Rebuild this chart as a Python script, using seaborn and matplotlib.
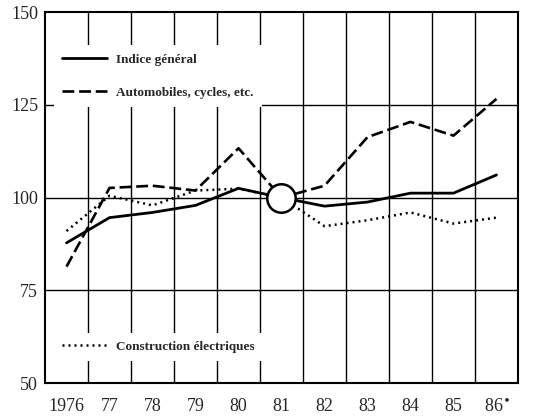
import numpy as np
import pandas as pd
import matplotlib
matplotlib.use("Agg")
import matplotlib.pyplot as plt
import seaborn as sns
from matplotlib.lines import Line2D

years = ["1976", "77", "78", "79", "80", "81", "82", "83", "84", "85", "86"]
indice_general = [87.8, 94.6, 96.0, 97.9, 102.5, 100.0, 97.7, 98.8, 101.2, 101.2, 106.1]
automobiles = [81.4, 102.6, 103.2, 101.9, 113.3, 100.0, 103.2, 116.3, 120.4, 116.7, 126.6]
construction = [91.0, 100.5, 97.9, 101.9, 102.4, 100.0, 92.3, 93.9, 96.0, 93.0, 94.6]
yticks = [50, 75, 100, 125, 150]

sns.set_theme(style="white")
plt.rcParams['font.family'] = ['Liberation Serif', 'DejaVu Serif']

fig = plt.figure(figsize=(5.49, 4.16), dpi=100)
ax = fig.add_axes([0.082, 0.079, 0.8615, 0.892])

x = np.arange(len(years))
df = pd.DataFrame({"x": x, "gen": indice_general, "auto": automobiles, "cons": construction})

# grid first, so legend boxes can hide it
for xv in np.arange(0.5, len(years) - 0.5, 1):
    ax.axvline(xv, color="black", lw=1.0, zorder=1)
for yv in [75, 100, 125]:
    ax.axhline(yv, color="black", lw=1.0, zorder=1)

dash = [4.5, 1.8]
dot = [0.8, 1.6]
sns.lineplot(data=df, x="x", y="gen", ax=ax, color="black", lw=2.0, zorder=3)
sns.lineplot(data=df, x="x", y="auto", ax=ax, color="black", lw=1.9, zorder=3)
ax.lines[-1].set_dashes(dash)
sns.lineplot(data=df, x="x", y="cons", ax=ax, color="black", lw=1.8, zorder=3)
ax.lines[-1].set_dashes(dot)

# base year marker
ax.scatter([5], [100], s=420, facecolor="white", edgecolor="black", linewidth=1.8, zorder=4)

ax.set_xlim(-0.5, len(years) - 0.5)
ax.set_ylim(50, 150)
ax.set_xticks(x)
ax.set_xticklabels(years[:-1] + ["86$^{\\bullet}$"])
ax.set_yticks(yticks)
ax.set_xlabel("")
ax.set_ylabel("")
ax.tick_params(axis="x", labelsize=13, length=0, pad=11)
ax.tick_params(axis="y", labelsize=13, length=0, pad=5)
for s in ax.spines.values():
    s.set_color("black")
    s.set_linewidth(1.5)

h1 = Line2D([], [], color="black", lw=2.0)
h2 = Line2D([], [], color="black", lw=1.9, dashes=dash)
h3 = Line2D([], [], color="black", lw=1.8, dashes=dot)
legprops = dict(weight="bold", size=9.5)
leg1 = ax.legend([h1, h2], ["Indice général", "Automobiles, cycles, etc."],
                 loc="upper left", bbox_to_anchor=(0.02, 0.91), prop=legprops,
                 handlelength=3.4, handletextpad=0.7, labelspacing=1.6,
                 frameon=True, facecolor="white", edgecolor="none", framealpha=1,
                 borderpad=0.6, borderaxespad=0, fancybox=False)
leg1.set_zorder(2)
ax.add_artist(leg1)
leg2 = ax.legend([h3], ["Construction électriques"],
                 loc="lower left", bbox_to_anchor=(0.02, 0.06), prop=legprops,
                 handlelength=3.4, handletextpad=0.7,
                 frameon=True, facecolor="white", edgecolor="none", framealpha=1,
                 borderpad=0.6, borderaxespad=0, fancybox=False)
leg2.set_zorder(2)

fig.savefig("out.png", dpi=100)
